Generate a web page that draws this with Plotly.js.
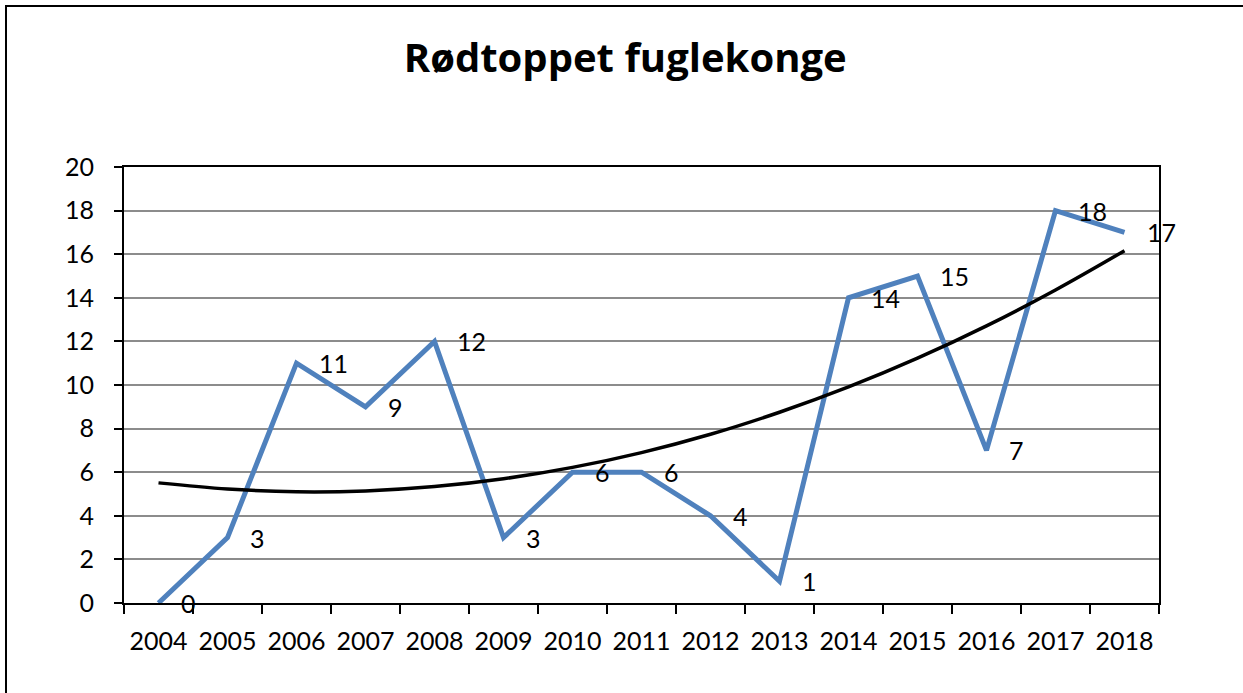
<!DOCTYPE html>
<html>
<head>
<meta charset="utf-8">
<script src="https://cdn.plot.ly/plotly-3.0.1.min.js"></script>
<style>
  html, body { margin: 0; padding: 0; background: #fff; }
  #chart { width: 1243px; height: 693px; }
</style>
</head>
<body>
<div id="chart"></div>
<script>
const years = ['2004','2005','2006','2007','2008','2009','2010','2011','2012','2013','2014','2015','2016','2017','2018'];
const counts = [0, 3, 11, 9, 12, 3, 6, 6, 4, 1, 14, 15, 7, 18, 17];
// polynomial (order 2) trendline, values read at each year
const trend = [5.51, 5.23, 5.10, 5.14, 5.34, 5.70, 6.22, 6.90, 7.74, 8.75, 9.91, 11.23, 12.71, 14.36, 16.16];
const yTicks = [0, 2, 4, 6, 8, 10, 12, 14, 16, 18, 20];
const titleText = 'Rødtoppet fuglekonge';

const FONT = 'Lato, "Open Sans", "Liberation Sans", sans-serif';
const TITLE_FONT = '"Open Sans", Lato, "Liberation Sans", sans-serif';

const traces = [
  {
    x: years, y: counts, type: 'scatter', mode: 'lines',
    line: { color: '#4F81BD', width: 5 },
    hoverinfo: 'x+y', showlegend: false
  },
  {
    x: years, y: trend, type: 'scatter', mode: 'lines',
    line: { color: '#000000', width: 3.5, shape: 'spline' },
    hoverinfo: 'skip', showlegend: false
  }
];

// category axis: annotation x uses the category index
const annotations = years.map((yr, i) => ({
  x: i, y: counts[i], xref: 'x', yref: 'y',
  text: String(counts[i]), showarrow: false,
  xanchor: 'left', yanchor: 'middle', xshift: 20, yshift: 0,
  font: { family: FONT, size: 25, color: '#000' }
}));

const layout = {
  width: 1243, height: 693,
  margin: { l: 124, r: 84, t: 167, b: 90, pad: 0 },
  paper_bgcolor: '#ffffff', plot_bgcolor: '#ffffff',
  title: {
    text: '<b>' + titleText + '</b>',
    font: { family: TITLE_FONT, size: 40, color: '#000' },
    xref: 'container', x: 0.503, xanchor: 'center',
    yref: 'container', y: 1 - 58 / 693, yanchor: 'middle'
  },
  xaxis: {
    type: 'category', range: [-0.5, 14.5],
    tickson: 'boundaries', ticks: 'outside', ticklen: 9, tickwidth: 2, tickcolor: '#000',
    showline: true, linecolor: '#000', linewidth: 2, mirror: true,
    showgrid: false, zeroline: false,
    tickfont: { family: FONT, size: 25, color: '#000' },
    ticklabelstandoff: 15,
    fixedrange: true
  },
  yaxis: {
    range: [0, 20], tickvals: yTicks, ticktext: yTicks.map(String),
    ticks: 'outside', ticklen: 8, tickwidth: 2, tickcolor: '#000',
    showline: true, linecolor: '#000', linewidth: 2, mirror: true,
    showgrid: true, gridcolor: '#8C8C8C', gridwidth: 2, zeroline: false,
    tickfont: { family: FONT, size: 25, color: '#000' },
    ticklabelstandoff: 15,
    fixedrange: true
  },
  annotations: annotations,
  shapes: [{
    type: 'rect', xref: 'paper', yref: 'paper',
    x0: (6 - 124) / 1035, x1: (1260 - 124) / 1035,
    y0: (603 - 710) / 436, y1: (603 - 6) / 436,
    line: { color: '#000', width: 2 }, fillcolor: 'rgba(0,0,0,0)', layer: 'above'
  }]
};

Plotly.newPlot('chart', traces, layout, { displayModeBar: false, staticPlot: true });
</script>
</body>
</html>
